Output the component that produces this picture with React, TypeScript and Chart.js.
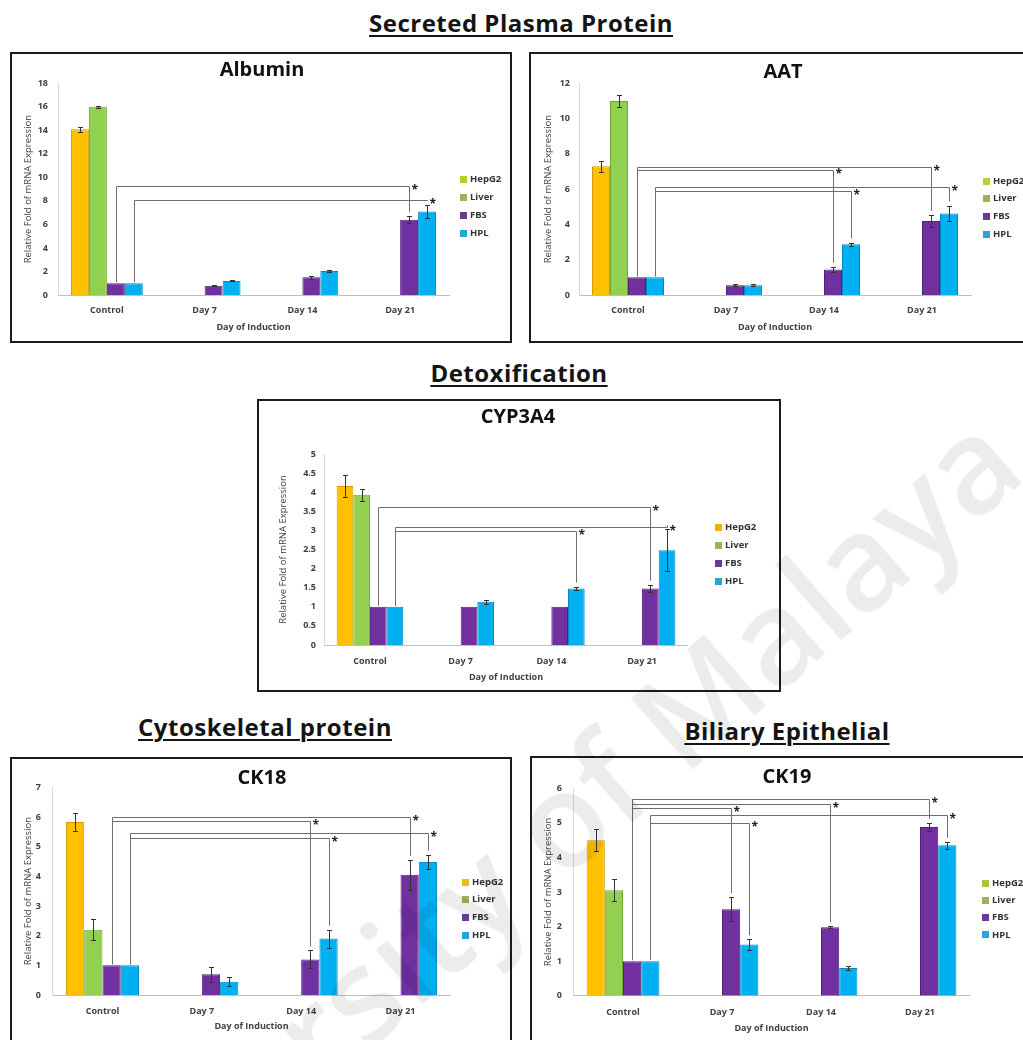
import React, { useEffect, useRef } from "react";
import { Chart, registerables } from "chart.js";

Chart.register(...registerables);

// ---- shared labels ----
const categories = ["Control", "Day 7", "Day 14", "Day 21"];
const seriesNames = ["HepG2", "Liver", "FBS", "HPL"];
const barFill = ["#FFC000", "#92D050", "#7030A0", "#00B0F0"];
const barEdge = ["#D29B00", "#6FA63A", "#52207A", "#0089C2"];
const legendFill = ["#FFC000", "#9DB25E", "#6A3A9A", "#2AA3DC"];
const yAxisTitle = "Relative Fold of mRNA Expression";
const xAxisTitle = "Day of Induction";

// ---- Albumin ----
const albuminHepG2 = [14.1, null, null, null];
const albuminLiver = [16.0, null, null, null];
const albuminFBS = [1.0, 0.78, 1.5, 6.4];
const albuminHPL = [1.0, 1.2, 2.05, 7.1];
const albuminErrHepG2 = [0.2, 0, 0, 0];
const albuminErrLiver = [0.1, 0, 0, 0];
const albuminErrFBS = [0, 0.05, 0.1, 0.3];
const albuminErrHPL = [0, 0.05, 0.1, 0.55];

// ---- AAT ----
const aatHepG2 = [7.3, null, null, null];
const aatLiver = [11.0, null, null, null];
const aatFBS = [1.0, 0.55, 1.45, 4.2];
const aatHPL = [1.0, 0.55, 2.87, 4.62];
const aatErrHepG2 = [0.3, 0, 0, 0];
const aatErrLiver = [0.35, 0, 0, 0];
const aatErrFBS = [0, 0.05, 0.15, 0.35];
const aatErrHPL = [0, 0.05, 0.1, 0.45];

// ---- CYP3A4 ----
const cypHepG2 = [4.16, null, null, null];
const cypLiver = [3.93, null, null, null];
const cypFBS = [1.0, 1.0, 1.0, 1.48];
const cypHPL = [1.0, 1.13, 1.48, 2.48];
const cypErrHepG2 = [0.28, 0, 0, 0];
const cypErrLiver = [0.15, 0, 0, 0];
const cypErrFBS = [0, 0, 0, 0.1];
const cypErrHPL = [0, 0.05, 0.05, 0.55];

// ---- CK18 ----
const ck18HepG2 = [5.83, null, null, null];
const ck18Liver = [2.2, null, null, null];
const ck18FBS = [1.0, 0.7, 1.2, 4.05];
const ck18HPL = [1.0, 0.45, 1.9, 4.48];
const ck18ErrHepG2 = [0.3, 0, 0, 0];
const ck18ErrLiver = [0.35, 0, 0, 0];
const ck18ErrFBS = [0, 0.25, 0.3, 0.5];
const ck18ErrHPL = [0, 0.15, 0.3, 0.25];

// ---- CK19 ----
const ck19HepG2 = [4.5, null, null, null];
const ck19Liver = [3.05, null, null, null];
const ck19FBS = [1.0, 2.5, 1.98, 4.88];
const ck19HPL = [1.0, 1.48, 0.8, 4.35];
const ck19ErrHepG2 = [0.32, 0, 0, 0];
const ck19ErrLiver = [0.32, 0, 0, 0];
const ck19ErrFBS = [0, 0.35, 0.03, 0.12];
const ck19ErrHPL = [0, 0.15, 0.05, 0.1];

// significance brackets: series index (2 = FBS, 3 = HPL), target category, bracket height
type Bracket = { series: number; target: number; level: number };
const albuminBrackets: Bracket[] = [
  { series: 2, target: 3, level: 9.3 },
  { series: 3, target: 3, level: 8.1 },
];
const aatBrackets: Bracket[] = [
  { series: 2, target: 2, level: 7.1 },
  { series: 2, target: 3, level: 7.27 },
  { series: 3, target: 2, level: 5.91 },
  { series: 3, target: 3, level: 6.14 },
];
const cypBrackets: Bracket[] = [
  { series: 2, target: 3, level: 3.6 },
  { series: 3, target: 2, level: 2.98 },
  { series: 3, target: 3, level: 3.08 },
];
const ck18Brackets: Bracket[] = [
  { series: 2, target: 3, level: 6.01 },
  { series: 2, target: 2, level: 5.86 },
  { series: 3, target: 3, level: 5.47 },
  { series: 3, target: 2, level: 5.3 },
];
const ck19Brackets: Bracket[] = [
  { series: 2, target: 3, level: 5.69 },
  { series: 2, target: 2, level: 5.54 },
  { series: 2, target: 1, level: 5.43 },
  { series: 3, target: 3, level: 5.23 },
  { series: 3, target: 1, level: 5.0 },
];

type Rect = { x: number; y: number; w: number; h: number };
type PanelSpec = {
  title: string;
  box: Rect;
  plot: { l: number; t: number; r: number; b: number };
  yMax: number;
  yStep: number;
  values: (number | null)[][];
  errors: number[][];
  brackets: Bracket[];
  titleX: number;
  titleY: number;
  yTitleX: number;
  xTitleY: number;
  xTickY: number;
  yTickRight: number;
  legend: { x: number; y: number; dy: number; hepg2Color: string };
};

const FONT = '"Open Sans", "DejaVu Sans", sans-serif';

const panels: PanelSpec[] = [
  {
    title: "Albumin",
    box: { x: 10, y: 52, w: 502, h: 291 },
    plot: { l: 58, t: 83.3, r: 449, b: 295 },
    yMax: 18,
    yStep: 2,
    values: [albuminHepG2, albuminLiver, albuminFBS, albuminHPL],
    errors: [albuminErrHepG2, albuminErrLiver, albuminErrFBS, albuminErrHPL],
    brackets: albuminBrackets,
    titleX: 262,
    titleY: 70,
    yTitleX: 28,
    xTitleY: 327,
    xTickY: 310,
    yTickRight: 48,
    legend: { x: 460, y: 179, dy: 18, hepg2Color: "#B8CF2A" },
  },
  {
    title: "AAT",
    box: { x: 529, y: 52, w: 502, h: 291 },
    plot: { l: 579, t: 83.3, r: 971, b: 295 },
    yMax: 12,
    yStep: 2,
    values: [aatHepG2, aatLiver, aatFBS, aatHPL],
    errors: [aatErrHepG2, aatErrLiver, aatErrFBS, aatErrHPL],
    brackets: aatBrackets,
    titleX: 783,
    titleY: 72,
    yTitleX: 548,
    xTitleY: 327,
    xTickY: 310,
    yTickRight: 570,
    legend: { x: 983, y: 181, dy: 17.7, hepg2Color: "#BCCB30" },
  },
  {
    title: "CYP3A4",
    box: { x: 257, y: 399, w: 524, h: 293 },
    plot: { l: 324.6, t: 454, r: 687.4, b: 645 },
    yMax: 5,
    yStep: 0.5,
    values: [cypHepG2, cypLiver, cypFBS, cypHPL],
    errors: [cypErrHepG2, cypErrLiver, cypErrFBS, cypErrHPL],
    brackets: cypBrackets,
    titleX: 518,
    titleY: 417,
    yTitleX: 283,
    xTitleY: 677,
    xTickY: 661,
    yTickRight: 316,
    legend: { x: 715, y: 527, dy: 18, hepg2Color: "#F0B400" },
  },
  {
    title: "CK18",
    box: { x: 10, y: 757, w: 502, h: 291 },
    plot: { l: 52.8, t: 787.3, r: 450.2, b: 995 },
    yMax: 7,
    yStep: 1,
    values: [ck18HepG2, ck18Liver, ck18FBS, ck18HPL],
    errors: [ck18ErrHepG2, ck18ErrLiver, ck18ErrFBS, ck18ErrHPL],
    brackets: ck18Brackets,
    titleX: 262,
    titleY: 778,
    yTitleX: 28,
    xTitleY: 1026,
    xTickY: 1011,
    yTickRight: 41,
    legend: { x: 462, y: 882, dy: 17.7, hepg2Color: "#E0C020" },
  },
  {
    title: "CK19",
    box: { x: 530, y: 756, w: 502, h: 291 },
    plot: { l: 573.5, t: 788.3, r: 969.5, b: 995.7 },
    yMax: 6,
    yStep: 1,
    values: [ck19HepG2, ck19Liver, ck19FBS, ck19HPL],
    errors: [ck19ErrHepG2, ck19ErrLiver, ck19ErrFBS, ck19ErrHPL],
    brackets: ck19Brackets,
    titleX: 787,
    titleY: 777,
    yTitleX: 548,
    xTitleY: 1028,
    xTickY: 1012,
    yTickRight: 562,
    legend: { x: 982, y: 883, dy: 17.3, hepg2Color: "#ABC23A" },
  },
];

const headings = [
  { text: "Secreted Plasma Protein", x: 521, y: 23 },
  { text: "Detoxification", x: 519, y: 373 },
  { text: "Cytoskeletal protein", x: 265, y: 727 },
  { text: "Biliary Epithelial", x: 787, y: 731 },
];

const BORDER = 2;

function extrasPlugin(spec: PanelSpec, ox: number, oy: number) {
  return {
    id: "panelExtras",
    afterDatasetsDraw(chart: any) {
      const ctx: CanvasRenderingContext2D = chart.ctx;
      const yS = chart.scales.y;
      ctx.save();
      // error bars
      ctx.strokeStyle = "#333333";
      ctx.lineWidth = 1;
      spec.values.forEach((vals, si) => {
        const meta = chart.getDatasetMeta(si);
        vals.forEach((v, ci) => {
          const e = spec.errors[si][ci];
          if (v == null || !e) return;
          const el = meta.data[ci];
          const x = Math.round(el.x) + 0.5;
          const yt = Math.round(yS.getPixelForValue(v + e)) + 0.5;
          const yb = Math.round(yS.getPixelForValue(v - e)) + 0.5;
          ctx.beginPath();
          ctx.moveTo(x, yt);
          ctx.lineTo(x, yb);
          ctx.moveTo(x - 2.5, yt);
          ctx.lineTo(x + 2.5, yt);
          ctx.moveTo(x - 2.5, yb);
          ctx.lineTo(x + 2.5, yb);
          ctx.stroke();
        });
      });
      // significance brackets
      ctx.strokeStyle = "#6E6E6E";
      ctx.fillStyle = "#222222";
      ctx.font = `bold 12px ${FONT}`;
      ctx.textAlign = "left";
      ctx.textBaseline = "middle";
      spec.brackets.forEach((br) => {
        const meta = chart.getDatasetMeta(br.series);
        const from = meta.data[0];
        const to = meta.data[br.target];
        const v0 = spec.values[br.series][0] as number;
        const vt = (spec.values[br.series][br.target] as number) + spec.errors[br.series][br.target];
        const yl = Math.round(yS.getPixelForValue(br.level)) + 0.5;
        const x0 = Math.round(from.x) + 0.5;
        const x1 = Math.round(to.x) + 0.5;
        ctx.beginPath();
        ctx.moveTo(x0, yS.getPixelForValue(v0) - 1);
        ctx.lineTo(x0, yl);
        ctx.lineTo(x1, yl);
        ctx.lineTo(x1, yS.getPixelForValue(vt) - 4);
        ctx.stroke();
        ctx.fillText("*", x1 + 2, yl + 4);
      });
      ctx.restore();
    },
    afterDraw(chart: any) {
      const ctx: CanvasRenderingContext2D = chart.ctx;
      ctx.save();
      // panel title
      ctx.fillStyle = "#111111";
      ctx.font = `bold 20px ${FONT}`;
      ctx.textAlign = "center";
      ctx.textBaseline = "middle";
      ctx.fillText(spec.title, spec.titleX - ox, spec.titleY - oy);
      // legend
      const L = spec.legend;
      ctx.font = `bold 9.5px ${FONT}`;
      ctx.textAlign = "left";
      seriesNames.forEach((name, i) => {
        const y = L.y - oy + i * L.dy;
        ctx.fillStyle = i === 0 ? L.hepg2Color : legendFill[i];
        ctx.fillRect(Math.round(L.x - ox), Math.round(y - 3.5), 7, 7);
        ctx.fillStyle = "#333333";
        ctx.fillText(name, L.x - ox + 10, y);
      });
      ctx.restore();
    },
  };
}

function buildConfig(spec: PanelSpec): any {
  const ox = spec.box.x + BORDER;
  const oy = spec.box.y + BORDER;
  const W = spec.box.w - 2 * BORDER;
  const H = spec.box.h - 2 * BORDER;
  const left = spec.plot.l - ox;
  const top = spec.plot.t - oy;
  const right = spec.plot.r - ox;
  const bottom = spec.plot.b - oy;
  const tickFont = { family: FONT, size: 9, weight: "bold" as const };
  const titleFont = { family: FONT, size: 9, weight: "bold" as const };
  const yTitleFont = { family: FONT, size: 9.5, weight: "normal" as const };

  return {
    type: "bar",
    data: {
      labels: categories,
      datasets: spec.values.map((vals, i) => ({
        label: seriesNames[i],
        data: vals,
        backgroundColor: barFill[i],
        borderColor: barEdge[i],
        borderWidth: 1,
        categoryPercentage: 0.735,
        barPercentage: 1.0,
      })),
    },
    options: {
      responsive: false,
      maintainAspectRatio: false,
      animation: false,
      devicePixelRatio: 1,
      layout: { padding: { left: 0, top, right: W - right, bottom: 0 } },
      plugins: {
        legend: { display: false },
        tooltip: { enabled: false },
        title: { display: false },
      },
      scales: {
        x: {
          grid: { display: false, drawTicks: false },
          border: { display: true, color: "#BFBFBF", width: 1 },
          ticks: {
            font: tickFont,
            color: "#404040",
            padding: spec.xTickY - spec.plot.b - 5.4,
          },
          title: {
            display: true,
            text: xAxisTitle,
            font: titleFont,
            color: "#404040",
            padding: { top: 0, bottom: oy + H - spec.xTitleY - 5.4 },
          },
          afterFit: (s: any) => {
            s.height = H - bottom;
          },
        },
        y: {
          min: 0,
          max: spec.yMax,
          grid: { display: false, drawTicks: false },
          border: { display: true, color: "#D9D9D9", width: 1 },
          ticks: {
            stepSize: spec.yStep,
            font: tickFont,
            color: "#404040",
            padding: spec.plot.l - spec.yTickRight,
            callback: (v: number | string) => String(Number(v)),
          },
          title: {
            display: true,
            text: yAxisTitle,
            font: yTitleFont,
            color: "#404040",
            padding: { top: spec.yTitleX - ox - 5.7, bottom: 0 },
          },
          afterFit: (s: any) => {
            s.width = left;
          },
        },
      },
    },
    plugins: [extrasPlugin(spec, ox, oy)],
  };
}

function Panel({ spec }: { spec: PanelSpec }) {
  const ref = useRef<HTMLCanvasElement>(null);
  useEffect(() => {
    if (!ref.current) return;
    const chart = new Chart(ref.current, buildConfig(spec));
    return () => chart.destroy();
  }, [spec]);
  const W = spec.box.w - 2 * BORDER;
  const H = spec.box.h - 2 * BORDER;
  return (
    <div
      style={{
        position: "absolute",
        left: spec.box.x,
        top: spec.box.y,
        width: spec.box.w,
        height: spec.box.h,
        boxSizing: "border-box",
        border: `${BORDER}px solid #1C1C1C`,
        background: "#FFFFFF",
      }}
    >
      <canvas ref={ref} width={W} height={H} style={{ display: "block", width: W, height: H }} />
    </div>
  );
}

export default function App() {
  return (
    <div
      style={{
        position: "absolute",
        left: 0,
        top: 0,
        width: 1023,
        height: 1040,
        overflow: "hidden",
        background: "#FFFFFF",
      }}
    >
      {headings.map((h) => (
        <div
          key={h.text}
          style={{
            position: "absolute",
            left: h.x,
            top: h.y,
            transform: "translate(-50%, -50%)",
            fontFamily: FONT,
            fontWeight: 700,
            fontSize: 24,
            letterSpacing: 0.5,
            lineHeight: "30px",
            whiteSpace: "nowrap",
            color: "#141414",
            textDecoration: "underline",
            textDecorationThickness: 2,
            textUnderlineOffset: 3,
          }}
        >
          {h.text}
        </div>
      ))}
      {panels.map((p) => (
        <Panel key={p.title} spec={p} />
      ))}
      <div
        style={{
          position: "absolute",
          left: 505,
          top: 865,
          transform: "translate(-50%, -50%) rotate(-41deg)",
          fontFamily: FONT,
          fontWeight: 600,
          fontSize: 132,
          whiteSpace: "nowrap",
          color: "rgba(0,0,0,0.075)",
          pointerEvents: "none",
        }}
      >
        University of Malaya
      </div>
    </div>
  );
}
